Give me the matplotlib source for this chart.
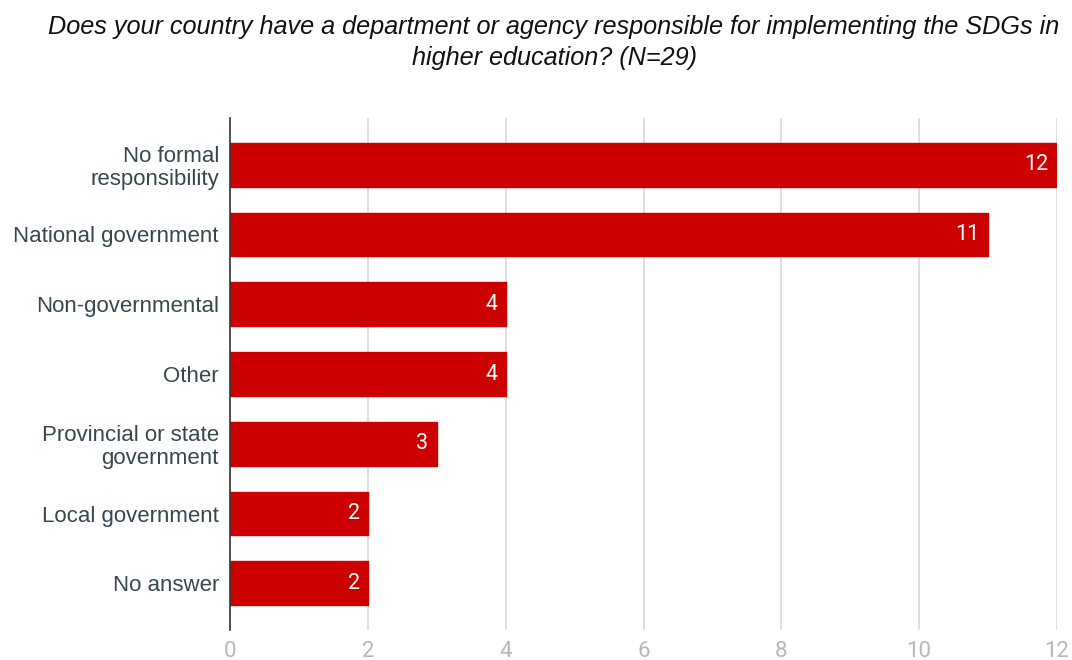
import matplotlib
matplotlib.use("Agg")
import matplotlib.pyplot as plt

categories = ["No formal\nresponsibility", "National government", "Non-governmental",
              "Other", "Provincial or state\ngovernment", "Local government", "No answer"]
values = [12, 11, 4, 4, 3, 2, 2]
xticks = [0, 2, 4, 6, 8, 10, 12]
title = "Does your country have a department or agency responsible for implementing the SDGs in\nhigher education? (N=29)"

bar_color = "#cc0000"
fig = plt.figure(figsize=(10.72, 6.6), dpi=100)
ax = fig.add_axes([230/1072, 30/660, (1057-230)/1072, (630-118)/660])

ypos = list(range(len(categories)))
ax.barh(ypos, values, height=0.63, color=bar_color, edgecolor=bar_color,
        linewidth=1.0, joinstyle="round", zorder=3)
for y, v in zip(ypos, values):
    ax.text(v - 0.12, y, str(v), ha="right", va="center", color="white",
            fontsize=15.5, family=["Roboto", "DejaVu Sans"], zorder=4)

ax.set_xlim(0, 12)
ax.set_ylim(6.67, -0.67)
ax.set_yticks(ypos)
ax.set_yticklabels(categories, fontsize=16, color="#37474f",
                   family=["Liberation Sans", "DejaVu Sans"], linespacing=1.12)
ax.set_xticks(xticks)
ax.set_xticklabels([str(t) for t in xticks], fontsize=16, color="#b7b7b7",
                   family=["Roboto", "DejaVu Sans"])
ax.tick_params(axis="both", length=0)
ax.tick_params(axis="y", pad=8)
ax.tick_params(axis="x", pad=8)
ax.grid(axis="x", color="#d9d9d9", linewidth=1.2, zorder=0)
for s in ["top", "right", "bottom"]:
    ax.spines[s].set_visible(False)
ax.spines["left"].set_color("#333333")
ax.spines["left"].set_linewidth(1.2)
ax.spines["left"].set_zorder(5)

fig.text(554/1072, 0.978, title, ha="center", va="top", fontsize=18.2, style="italic",
         family=["Liberation Sans", "DejaVu Sans"], color="#111111", linespacing=1.38)

fig.savefig("out.png", dpi=100)
